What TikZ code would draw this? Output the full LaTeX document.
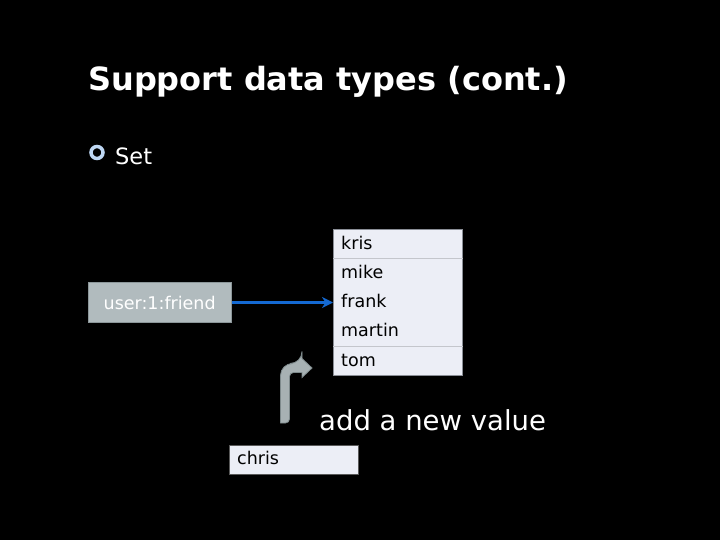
\documentclass[tikz,border=0pt]{standalone}
\usepackage{fontspec}
\setmainfont{DejaVu Sans}
\usetikzlibrary{arrows.meta}
\definecolor{cellfill}{HTML}{ECEEF6}
\definecolor{cellline}{HTML}{8A8E96}
\definecolor{rowsep}{HTML}{C4C6CC}
\definecolor{keyfill}{HTML}{B1BBBE}
\definecolor{keyline}{HTML}{8C979A}
\definecolor{linkblue}{HTML}{1469D2}
\definecolor{bulletblue}{HTML}{BED7F3}
\definecolor{bentfill}{HTML}{A7B1B3}
\definecolor{bentline}{HTML}{7E8A8C}
\tikzset{
  titletext/.style={text=white, inner sep=0pt, anchor=base west,
    font=\fontsize{32}{38}\selectfont\bfseries},
  bodytext/.style={text=white, inner sep=0pt, anchor=base west,
    font=\fontsize{22.5}{27}\selectfont},
  bigword/.style={text=white, inner sep=0pt, anchor=base west,
    font=\fontsize{27.5}{33}\selectfont},
  item/.style={text=black, inner sep=0pt, anchor=base west,
    font=\fontsize{17.5}{21}\selectfont},
  cell/.style={draw=cellline, fill=cellfill, line width=0.8pt, inner sep=0pt,
    anchor=north west},
  keybox/.style={draw=keyline, fill=keyfill, line width=1pt, inner sep=0pt,
    anchor=north west, minimum width=143pt, minimum height=40pt},
  link/.style={draw=linkblue, line width=3pt,
    -{Stealth[length=11pt,width=11pt,inset=3.5pt]}},
}
\begin{document}
\begin{tikzpicture}[x=1pt,y=-1pt]
\fill[black] (0,0) rectangle (720,540);
\useasboundingbox (0,0) rectangle (720,540);

% heading and bullet
\node[titletext] (title) at (88,91) {Support data types (cont.)};
\draw[bulletblue, line width=3.5pt] (97,152.5) circle[radius=6pt];
\node[bodytext] (bullet) at (115,165) {Set};

% the set and its members
\node[cell, minimum width=129pt, minimum height=146pt] (setbox) at (333,229.3) {};
\coordinate (sepA) at (333,258.5);
\coordinate (sepB) at (333,346.7);
\draw[rowsep, line width=0.8pt] (sepA) -- (sepA -| setbox.east);
\draw[rowsep, line width=0.8pt] (sepB) -- (sepB -| setbox.east);
\node[item] (kris)   at (341,249.3) {kris};
\node[item] (mike)   at (341,278.3) {mike};
\node[item] (frank)  at (341,307.3) {frank};
\node[item] (martin) at (341,336.7) {martin};
\node[item] (tom)    at (341,366.3) {tom};

% key pointing at the set
\node[keybox] (key) at (88.3,282) {};
\node[text=white, inner sep=0pt, anchor=base,
  font=\fontsize{17.5}{21}\selectfont] (keylabel) at (159.7,309) {user:1:friend};
\draw[link] (key.east) -- (key.east -| setbox.west);

% bent arrow carrying the new value up
\filldraw[fill=bentfill, draw=bentline, line width=0.8pt]
  (280.5,423) [rounded corners=12pt] -- (280.5,363.5) -- (302,363.5) [sharp corners]
  -- (302,358.5) -- (312,368) -- (302,377.5) -- (302,372.5)
  [rounded corners=4pt] -- (289.5,372.5) -- (289.5,423) [sharp corners] -- cycle;
\node[bigword] (addlabel) at (319,430) {add a new value};

% the new member
\node[cell, draw=black!65, minimum width=129pt, minimum height=29pt] (newbox) at (228.5,444.7) {};
\node[item] (chris) at (237,464) {chris};
\end{tikzpicture}
\end{document}
